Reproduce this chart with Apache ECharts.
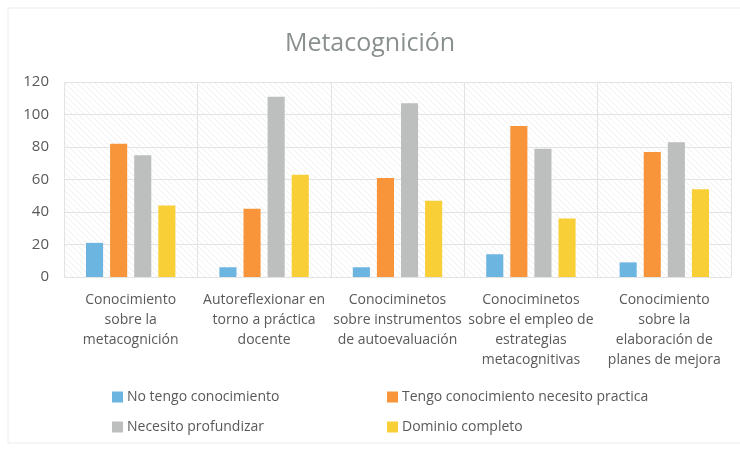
<!DOCTYPE html>
<html>
<head>
<meta charset="utf-8">
<script src="https://cdn.jsdelivr.net/npm/echarts@6/dist/echarts.min.js"></script>
<style>
html,body{margin:0;padding:0;background:#fff;}
#chart{width:740px;height:451px;}
</style>
</head>
<body>
<div id="chart"></div>
<script>
const titleText = 'Metacognición';
const categories = [
  'Conocimiento\nsobre la\nmetacognición',
  'Autoreflexionar en\ntorno a práctica\ndocente',
  'Conociminetos\nsobre instrumentos\nde autoevaluación',
  'Conociminetos\nsobre el empleo de\nestrategias\nmetacognitivas',
  'Conocimiento\nsobre la\nelaboración de\nplanes de mejora'
];
const seriesNames = ['No tengo conocimiento', 'Tengo conocimiento necesito practica', 'Necesito profundizar', 'Dominio completo'];
const noTengo = [21, 6, 6, 14, 9];
const tengoPractica = [82, 42, 61, 93, 77];
const necesitoProfundizar = [75, 111, 107, 79, 83];
const dominioCompleto = [44, 63, 47, 36, 54];
const yTicks = [0, 20, 40, 60, 80, 100, 120];

const colors = ['#6db5e1', '#f8953a', '#bdbfbf', '#f9cf37'];
const seriesData = [noTengo, tengoPractica, necesitoProfundizar, dominioCompleto];

// subtle hatch pattern for plot background
const pc = document.createElement('canvas');
pc.width = 6; pc.height = 6;
const ctx = pc.getContext('2d');
ctx.fillStyle = '#ffffff';
ctx.fillRect(0, 0, 6, 6);
ctx.strokeStyle = '#efefef';
ctx.lineWidth = 1;
ctx.beginPath();
ctx.moveTo(0, 0); ctx.lineTo(6, 6);
ctx.moveTo(-3, 3); ctx.lineTo(3, 9);
ctx.moveTo(3, -3); ctx.lineTo(9, 3);
ctx.stroke();

const FONT = 'Open Sans';
const chart = echarts.init(document.getElementById('chart'), null, {renderer: 'canvas'});

const legendPos = [
  {left: 112, top: 390},
  {left: 387, top: 390},
  {left: 112, top: 420},
  {left: 387, top: 420}
];

chart.setOption({
  animation: false,
  backgroundColor: '#ffffff',
  color: colors,
  title: {
    text: titleText,
    left: 'center',
    top: 26,
    textStyle: {fontFamily: FONT, fontSize: 25, fontWeight: 'normal', color: '#8a8f8f'}
  },
  graphic: [{
    type: 'rect',
    shape: {x: 8, y: 8, width: 740, height: 435},
    style: {fill: 'none', stroke: '#ececec', lineWidth: 1},
    silent: true
  }],
  legend: seriesNames.map((n, i) => ({
    data: [n],
    left: legendPos[i].left,
    top: legendPos[i].top,
    padding: 0,
    itemWidth: 11,
    itemHeight: 11,
    icon: 'rect',
    textStyle: {fontFamily: FONT, fontSize: 14, color: '#595959', padding: [0, 0, 0, -1]}
  })),
  grid: {
    left: 64, right: 9, top: 82, bottom: 174,
    show: true,
    borderWidth: 0,
    backgroundColor: {image: pc, repeat: 'repeat'}
  },
  xAxis: {
    type: 'category',
    data: categories,
    axisLine: {show: false},
    axisTick: {show: false},
    splitLine: {show: true, interval: 0, lineStyle: {color: '#e3e3e3', width: 1}},
    axisLabel: {
      interval: 0,
      margin: 13,
      fontFamily: FONT,
      fontSize: 14,
      lineHeight: 20,
      color: '#595959',
      verticalAlign: 'top'
    }
  },
  yAxis: {
    type: 'value',
    min: yTicks[0],
    max: yTicks[yTicks.length - 1],
    interval: yTicks[1] - yTicks[0],
    axisLine: {show: false},
    axisTick: {show: false},
    splitLine: {show: true, lineStyle: {color: '#e3e3e3', width: 1}},
    axisLabel: {margin: 15, fontFamily: FONT, fontSize: 15, color: '#595959'}
  },
  series: seriesNames.map((n, i) => ({
    name: n,
    type: 'bar',
    data: seriesData[i],
    barGap: '41%',
    barCategoryGap: '33%',
    itemStyle: {color: colors[i]}
  }))
});
</script>
</body>
</html>
